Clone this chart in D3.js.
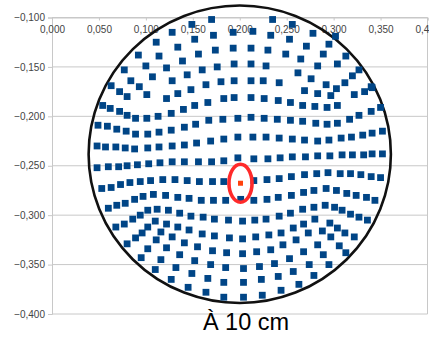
<!DOCTYPE html>
<html>
<head>
<meta charset="utf-8">
<script src="https://cdn.jsdelivr.net/npm/d3@7"></script>
<style>
  html, body { margin: 0; padding: 0; background: #ffffff; }
  svg { display: block; font-family: "Liberation Sans", Arial, sans-serif; }
</style>
</head>
<body>
<svg id="chart" width="429" height="340"></svg>
<script>
// Axis ticks
const xTicks = [0, 0.05, 0.1, 0.15, 0.2, 0.25, 0.3, 0.35, 0.4];
const yTicks = [-0.1, -0.15, -0.2, -0.25, -0.3, -0.35, -0.4];

// Impact points on the screen (metres)
const spotX = [
  0.170, 0.149, 0.128, 0.172, 0.193, 0.111, 0.152, 0.134, 0.174, 0.193,
  0.092, 0.114, 0.156, 0.139, 0.176, 0.194, 0.100, 0.122, 0.077, 0.160,
  0.144, 0.180, 0.194, 0.107, 0.084, 0.128, 0.164, 0.148, 0.183, 0.194,
  0.063, 0.093, 0.072, 0.101, 0.134, 0.122, 0.080,
  0.054, 0.062, 0.072, 0.080, 0.089, 0.101, 0.113, 0.127, 0.140, 0.152, 0.166,
  0.049, 0.059, 0.069, 0.079, 0.089, 0.102, 0.114, 0.127, 0.141, 0.153, 0.167, 0.182, 0.198,
  0.048, 0.057, 0.068, 0.078, 0.088, 0.102, 0.114, 0.128, 0.141, 0.154, 0.169, 0.183, 0.198,
  0.048, 0.060, 0.071, 0.080, 0.091, 0.103, 0.115, 0.128, 0.141, 0.156, 0.170, 0.183, 0.198,
  0.053, 0.063, 0.073, 0.083, 0.094, 0.105, 0.118, 0.131, 0.144, 0.157, 0.171, 0.183,
  0.060, 0.069, 0.078, 0.088, 0.097, 0.108, 0.121, 0.134, 0.146, 0.159, 0.172, 0.185,
  0.068, 0.077, 0.086, 0.094, 0.102, 0.112, 0.124, 0.136, 0.148, 0.161, 0.173, 0.188,
  0.080, 0.089, 0.096, 0.102, 0.110, 0.122, 0.134, 0.146, 0.160, 0.173, 0.189,
  0.095, 0.102, 0.111, 0.116, 0.128, 0.141, 0.155, 0.171, 0.186,
  0.110, 0.116, 0.122, 0.136, 0.152, 0.169, 0.185,
  0.127, 0.132, 0.149, 0.166, 0.183,
  0.145, 0.164, 0.183,
  0.235, 0.256, 0.214, 0.233, 0.278, 0.253, 0.302, 0.212, 0.230, 0.271,
  0.295, 0.249, 0.289, 0.313, 0.212, 0.228, 0.265, 0.283, 0.304, 0.327,
  0.212, 0.225, 0.242, 0.262, 0.276, 0.292, 0.312, 0.320, 0.340,
  0.212, 0.226, 0.241, 0.269, 0.283, 0.297, 0.303, 0.322, 0.333, 0.341,
  0.254, 0.267, 0.280, 0.293, 0.304,
  0.212, 0.226, 0.240, 0.254, 0.267, 0.281, 0.293, 0.304, 0.317, 0.327, 0.340, 0.350,
  0.214, 0.228, 0.242, 0.256, 0.269, 0.283, 0.295, 0.308, 0.319, 0.331, 0.341, 0.352,
  0.215, 0.230, 0.243, 0.256, 0.270, 0.283, 0.296, 0.309, 0.320, 0.332, 0.341, 0.352,
  0.215, 0.229, 0.242, 0.255, 0.269, 0.282, 0.294, 0.307, 0.318, 0.329, 0.340, 0.350,
  0.201, 0.215, 0.229, 0.241, 0.255, 0.268, 0.279, 0.292, 0.303, 0.314, 0.324, 0.335, 0.344,
  0.203, 0.216, 0.228, 0.242, 0.254, 0.267, 0.279, 0.291, 0.301, 0.309, 0.318, 0.327, 0.336,
  0.203, 0.217, 0.231, 0.244, 0.257, 0.268, 0.280, 0.296, 0.304, 0.312, 0.322,
  0.203, 0.218, 0.233, 0.246, 0.260, 0.273, 0.288, 0.297, 0.306, 0.313,
  0.204, 0.221, 0.237, 0.253, 0.268, 0.283, 0.289, 0.295,
  0.204, 0.223, 0.241, 0.257, 0.274, 0.279,
  0.204, 0.224, 0.244, 0.263
];
const spotY = [
  -0.102, -0.107, -0.115, -0.118, -0.115, -0.125, -0.122, -0.130, -0.133, -0.131,
  -0.138, -0.139, -0.137, -0.144, -0.150, -0.147, -0.149, -0.151, -0.153, -0.153,
  -0.158, -0.165, -0.164, -0.160, -0.164, -0.164, -0.168, -0.173, -0.182, -0.181,
  -0.169, -0.170, -0.175, -0.178, -0.177, -0.182, -0.180,
  -0.189, -0.192, -0.195, -0.199, -0.202, -0.202, -0.200, -0.197, -0.193, -0.189, -0.186,
  -0.209, -0.210, -0.213, -0.215, -0.218, -0.218, -0.216, -0.214, -0.211, -0.208, -0.204, -0.203, -0.202,
  -0.230, -0.231, -0.231, -0.232, -0.233, -0.232, -0.231, -0.230, -0.229, -0.227, -0.225, -0.223, -0.221,
  -0.252, -0.251, -0.251, -0.250, -0.249, -0.248, -0.247, -0.246, -0.246, -0.246, -0.246, -0.245, -0.242,
  -0.273, -0.272, -0.269, -0.267, -0.266, -0.265, -0.264, -0.264, -0.265, -0.266, -0.266, -0.266,
  -0.293, -0.290, -0.288, -0.284, -0.281, -0.279, -0.280, -0.282, -0.283, -0.285, -0.285, -0.285,
  -0.312, -0.309, -0.304, -0.300, -0.295, -0.294, -0.295, -0.298, -0.301, -0.302, -0.304, -0.305,
  -0.329, -0.323, -0.318, -0.312, -0.306, -0.309, -0.312, -0.315, -0.319, -0.321, -0.323,
  -0.343, -0.334, -0.325, -0.317, -0.322, -0.328, -0.332, -0.336, -0.338,
  -0.355, -0.345, -0.333, -0.340, -0.346, -0.350, -0.353,
  -0.365, -0.353, -0.359, -0.364, -0.368,
  -0.373, -0.378, -0.383,
  -0.102, -0.107, -0.114, -0.118, -0.116, -0.122, -0.119, -0.131, -0.133, -0.129,
  -0.127, -0.137, -0.137, -0.139, -0.147, -0.149, -0.142, -0.149, -0.147, -0.153,
  -0.164, -0.164, -0.166, -0.156, -0.162, -0.168, -0.166, -0.159, -0.170,
  -0.181, -0.182, -0.184, -0.174, -0.177, -0.179, -0.172, -0.178, -0.175, -0.171,
  -0.186, -0.189, -0.190, -0.191, -0.189,
  -0.201, -0.202, -0.203, -0.204, -0.205, -0.207, -0.208, -0.207, -0.203, -0.199, -0.195, -0.191,
  -0.221, -0.221, -0.222, -0.223, -0.224, -0.225, -0.224, -0.222, -0.221, -0.219, -0.217, -0.215,
  -0.243, -0.243, -0.242, -0.241, -0.241, -0.240, -0.240, -0.239, -0.239, -0.239, -0.238, -0.238,
  -0.265, -0.264, -0.263, -0.261, -0.259, -0.258, -0.257, -0.258, -0.258, -0.259, -0.261, -0.262,
  -0.284, -0.285, -0.284, -0.282, -0.280, -0.277, -0.275, -0.273, -0.275, -0.278, -0.280, -0.282, -0.285,
  -0.306, -0.305, -0.304, -0.301, -0.298, -0.294, -0.292, -0.290, -0.292, -0.295, -0.299, -0.302, -0.305,
  -0.324, -0.322, -0.320, -0.318, -0.313, -0.309, -0.304, -0.308, -0.313, -0.318, -0.322,
  -0.339, -0.337, -0.335, -0.330, -0.325, -0.318, -0.316, -0.322, -0.331, -0.338,
  -0.354, -0.352, -0.349, -0.344, -0.337, -0.330, -0.340, -0.350,
  -0.368, -0.365, -0.362, -0.357, -0.350, -0.361,
  -0.383, -0.381, -0.376, -0.370
];

// Chief ray impact
const chiefX = [0.2008];
const chiefY = [-0.2677];

// Outline of the beam (black) and highlight around the chief ray (red)
const rimCenter = [0.2, -0.2384];
const rimRadius = [0.161, 0.1505];
const ringCenter = [0.2008, -0.2677];
const ringRadius = [0.0123, 0.0192];

const caption = "À 10 cm";

const svg = d3.select("#chart");
const x = d3.scaleLinear().domain([0, 0.4]).range([52, 427.5]);
const y = d3.scaleLinear().domain([-0.1, -0.4]).range([17.5, 314]);
const fmt = v => d3.format(".3f")(v).replace(".", ",");
const gridColor = "#c8c8c8";

// Horizontal grid lines
svg.append("g").selectAll("line").data(yTicks).join("line")
  .attr("x1", x(0)).attr("x2", x(0.4))
  .attr("y1", d => y(d)).attr("y2", d => y(d))
  .attr("stroke", gridColor).attr("stroke-width", 1);

// Right border of the plot area
svg.append("line")
  .attr("x1", x(0.4)).attr("x2", x(0.4))
  .attr("y1", y(-0.1)).attr("y2", y(-0.4))
  .attr("stroke", gridColor).attr("stroke-width", 1);

// Y axis
const yAxis = svg.append("g").attr("transform", `translate(${x(0)},0)`)
  .call(d3.axisLeft(y).tickValues(yTicks).tickFormat(fmt).tickSize(4).tickPadding(3));
yAxis.select(".domain").attr("stroke", gridColor);
yAxis.selectAll(".tick line").attr("stroke", gridColor);
yAxis.selectAll("text").attr("fill", "#444").attr("font-size", 10)
  .attr("font-family", "Liberation Sans, Arial, sans-serif");

// X axis, drawn along the top edge with its labels underneath
const xAxis = svg.append("g").attr("transform", `translate(0,${y(-0.1)})`)
  .call(d3.axisBottom(x).tickValues(xTicks).tickFormat(fmt).tickSize(3).tickPadding(5));
xAxis.select(".domain").attr("stroke", gridColor);
xAxis.selectAll(".tick line").attr("stroke", gridColor);
xAxis.selectAll("text").attr("fill", "#444").attr("font-size", 10)
  .attr("font-family", "Liberation Sans, Arial, sans-serif");

// Beam outline
svg.append("ellipse")
  .attr("cx", x(rimCenter[0])).attr("cy", y(rimCenter[1]))
  .attr("rx", x(rimCenter[0] + rimRadius[0]) - x(rimCenter[0]))
  .attr("ry", y(rimCenter[1] - rimRadius[1]) - y(rimCenter[1]))
  .attr("fill", "none").attr("stroke", "#111").attr("stroke-width", 2.6);

// Impact points
const s = 6.8;
svg.append("g").selectAll("rect").data(d3.range(spotX.length)).join("rect")
  .attr("x", i => x(spotX[i]) - s / 2)
  .attr("y", i => y(spotY[i]) - s / 2)
  .attr("width", s).attr("height", s)
  .attr("fill", "#004586");

// Highlight ring and chief ray
svg.append("ellipse")
  .attr("cx", x(ringCenter[0])).attr("cy", y(ringCenter[1]))
  .attr("rx", x(ringCenter[0] + ringRadius[0]) - x(ringCenter[0]))
  .attr("ry", y(ringCenter[1] - ringRadius[1]) - y(ringCenter[1]))
  .attr("fill", "none").attr("stroke", "#ff2a2a").attr("stroke-width", 3.6);

svg.append("g").selectAll("rect").data(d3.range(chiefX.length)).join("rect")
  .attr("x", i => x(chiefX[i]) - 2.5)
  .attr("y", i => y(chiefY[i]) - 2.5)
  .attr("width", 5).attr("height", 5)
  .attr("fill", "#ff420e");

// Caption
svg.append("text")
  .attr("x", 246).attr("y", 329.5)
  .attr("text-anchor", "middle")
  .attr("font-size", 23.5)
  .attr("fill", "#000")
  .text(caption);
</script>
</body>
</html>
